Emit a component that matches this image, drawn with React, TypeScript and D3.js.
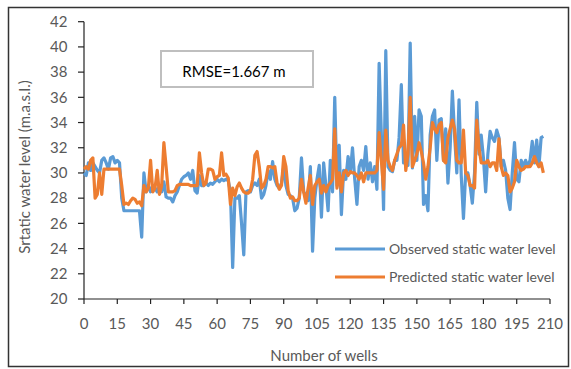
import React from 'react';
import * as d3 from 'd3';

// observed and predicted static water level per well (index 0..207)
const observed: number[] = [
  30, 29.8, 30.8, 30.2, 30.8, 30.5, 30.2, 30, 31, 31.2,
  30.8, 30.3, 31.2, 31.3, 30.8, 31, 30.8, 28, 27, 27,
  27, 27, 27, 27, 27, 27, 24.9, 30, 28.5, 29,
  28.5, 29, 28.8, 28.5, 29, 28.5, 29.3, 28.1, 28, 28,
  27.7, 28.2, 28.5, 29, 29.5, 29.7, 29.8, 30, 29.5, 30.2,
  28.6, 28.4, 29.8, 29, 29, 29.2, 29, 29.2, 29.1, 29.3,
  29.5, 29.3, 29.5, 29.4, 29.5, 29.4, 28.5, 22.5, 28, 28,
  28.2, 26, 23.5, 28.5, 28.6, 28.5, 29, 29.2, 29, 29.5,
  28, 28.3, 29, 30.2, 29.5, 30.9, 29.5, 29, 28.8, 29.2,
  30.5, 29, 28.3, 28.2, 28, 27, 27.2, 28, 31.2, 28.5,
  28.2, 27.8, 30.5, 23.8, 28, 29.5, 30.6, 26.5, 30.8, 29,
  27, 31, 28.5, 36, 29, 32.2, 26.7, 30.2, 29.5, 31.3,
  30, 32, 29.5, 27.5, 30.5, 31, 30.2, 32.1, 29.5, 30.8,
  29.3, 30.5, 28.7, 38.7, 33, 27.1, 39.7, 30.5, 30.2, 30.1,
  31, 31, 32.8, 37, 30.8, 31.5, 30.6, 40.3, 30.4, 34.5,
  31, 35, 34.5, 27.5, 28.2, 27, 33, 34.5, 35, 31,
  34.2, 34.3, 31, 33.5, 29.2, 32, 36.5, 33, 30, 35.8,
  29.8, 26.4, 30, 30, 29, 27.6, 30, 35.6, 31.5, 33,
  31.2, 28.5, 31.5, 33.3, 32.8, 32.5, 33.4, 32.8, 30.5, 31,
  30.2, 28, 27.1, 30, 32.4, 29.5, 29.3, 31, 30.5, 31,
  30.5, 31, 32.5, 30.8, 32.6, 30.5, 32.8, 32.9
];

const predicted: number[] = [
  30.3, 30.5, 30.3, 31, 31.2, 28, 28.3, 30, 28.3, 30.3,
  30.3, 30.3, 30.3, 30.3, 30.3, 30.3, 30.3, 29, 27.5, 27.6,
  27.5, 27.8, 28, 27.9, 27.6, 27.7, 27.4, 29, 28.5, 28.8,
  31, 28.5, 28.8, 30.2, 28.3, 29, 32.4, 30.5, 28.5, 28.5,
  28.5, 28.6, 29, 29.1, 29.1, 29.1, 29.1, 29.1, 29, 29,
  29, 29, 31.6, 30, 29, 29.2, 30.3, 30.3, 30.2, 29.5,
  29.7, 29.8, 31.6, 29.8, 29.9, 29.6, 27.5, 28.8, 28.2, 28.9,
  29.2, 28.8, 28.5, 28.4, 28.4, 28.6, 29.5, 31.4, 31.7, 30.5,
  28.8, 29, 29.5, 30.5, 30.5, 30.4, 30.5, 29.2, 28.7, 29,
  31.3, 30.5, 28.6, 28, 28.1, 27.8, 27.8, 28, 29.5, 28.5,
  27.6, 28.8, 29.8, 27.5, 29, 29.3, 29.5, 28.4, 29, 28.5,
  29, 29.2, 29.5, 33.5, 28.8, 30, 28.5, 30, 30.2, 29.8,
  30.1, 30, 30, 29.8, 29.5, 30, 29.3, 30, 30, 30,
  30, 30, 30.2, 33.2, 31, 28.7, 33.4, 31, 30.5, 30.2,
  31, 31.5, 32, 32.2, 33.8, 30.2, 31.5, 36, 30.5, 31,
  31.5, 32.4, 31.7, 30.8, 29.5, 30.5, 32, 34, 33.5, 33.2,
  33.8, 34, 31, 30.8, 32.8, 33.5, 34.2, 33.5, 31, 30.8,
  30.8, 33.4, 30, 29.8, 29, 29, 28.8, 34.2, 32, 30.8,
  30.8, 30.8, 31, 30.5, 30.8, 30.8, 30.2, 32.7, 30.5, 29.8,
  30, 29.8, 28.5, 28.8, 29.3, 31, 30.5, 30.2, 30.3, 30.5,
  30.5, 30.5, 30.8, 31.3, 30.8, 30.5, 30.8, 30
];

const xTicks: number[] = d3.range(0, 211, 15);
const yTicks: number[] = d3.range(20, 43, 2);

const W = 571;
const H = 369;
const FONT = 'Lato, "Open Sans", sans-serif';
const GREY = '#595959';

const App: React.FC = () => {
  const x = d3.scaleLinear().domain([0, 210]).range([84, 550]);
  const y = d3.scaleLinear().domain([20, 42]).range([299, 21.7]);

  const line = d3.line<number>()
    .x((_, i) => x(i))
    .y(d => y(d));

  return (
    <svg width={W} height={H} style={{ position: 'absolute', left: 0, top: 0 }}>
      <rect x={0} y={0} width={W} height={H} fill="#fff" />
      <rect x={8.5} y={7.5} width={560} height={359} fill="none" stroke="#333" strokeWidth={1.5} />

      {/* axes */}
      <line x1={x(0)} x2={x(0)} y1={y(42)} y2={y(20)} stroke="#222" strokeWidth={1.2} />
      <line x1={x(0)} x2={x(210)} y1={y(20)} y2={y(20)} stroke="#222" strokeWidth={1.2} />
      {yTicks.map(t => (
        <g key={'y' + t}>
          <line x1={x(0) - 6} x2={x(0)} y1={y(t)} y2={y(t)} stroke="#222" strokeWidth={1.2} />
          <text x={67.5} y={y(t)} dy="0.35em" textAnchor="end" fontFamily={FONT} fontSize={15} fill={GREY}>
            {t}
          </text>
        </g>
      ))}
      {xTicks.map(t => (
        <g key={'x' + t}>
          <line x1={x(t)} x2={x(t)} y1={y(20)} y2={y(20) + 5} stroke="#222" strokeWidth={1.2} />
          <text x={x(t)} y={329} textAnchor="middle" fontFamily={FONT} fontSize={15} fill={GREY}>
            {t}
          </text>
        </g>
      ))}

      <text x={324} y={361} textAnchor="middle" fontFamily={FONT} fontSize={15} fill={GREY}>
        Number of wells
      </text>
      <text
        transform={`translate(30,167) rotate(-90)`}
        textAnchor="middle"
        fontFamily={FONT}
        fontSize={15}
        fill={GREY}
      >
        Srtatic water level (m.a.s.l.)
      </text>

      {/* series */}
      <path d={line(observed) || ''} fill="none" stroke="#5B9BD5" strokeWidth={3.2} strokeLinejoin="round" />
      <path d={line(predicted) || ''} fill="none" stroke="#ED7D31" strokeWidth={3.2} strokeLinejoin="round" />

      {/* RMSE box */}
      <rect x={161} y={51} width={152} height={36} fill="#fff" stroke="#bfbfbf" strokeWidth={2} />
      <text x={234} y={72} dy="0.35em" textAnchor="middle" fontFamily={FONT} fontSize={15} fill="#000">
        RMSE=1.667 m
      </text>

      {/* legend */}
      <line x1={335} x2={385} y1={249} y2={249} stroke="#5B9BD5" strokeWidth={3.2} />
      <text x={389} y={249} dy="0.35em" fontFamily={FONT} fontSize={14} fill={GREY}>
        Observed static water level
      </text>
      <line x1={335} x2={385} y1={277} y2={277} stroke="#ED7D31" strokeWidth={3.2} />
      <text x={389} y={277} dy="0.35em" fontFamily={FONT} fontSize={14} fill={GREY}>
        Predicted static water level
      </text>
    </svg>
  );
};

export default App;
